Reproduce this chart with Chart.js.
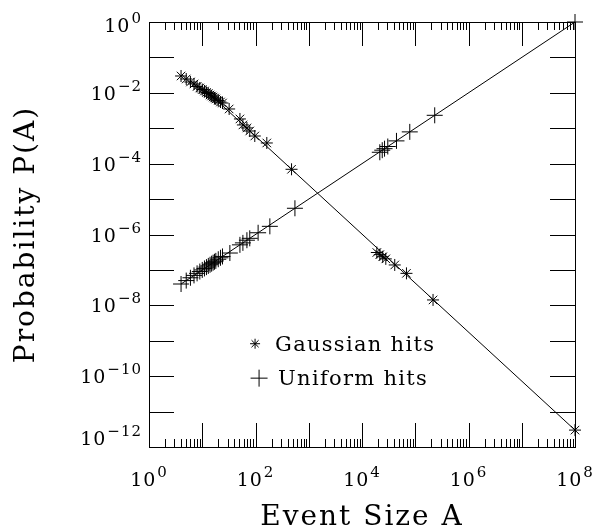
<!DOCTYPE html>
<html><head><meta charset="utf-8">
<script src="https://cdn.jsdelivr.net/npm/chart.js@4/dist/chart.umd.min.js"></script>
<style>html,body{margin:0;padding:0;background:#fff;}</style>
</head><body>
<canvas id="c" width="597" height="529"></canvas>
<script>
// ---- data ----
const gaussianSizes = [4, 5, 6, 7, 8, 9, 10, 11, 12, 13, 14, 15, 16, 17, 18, 20, 22, 24, 32, 51, 58, 69, 78, 97, 163, 475, 19000, 21600, 24500, 28000, 41200, 68400, 215800, 1e8];
const gaussianHits = [0.0299, 0.0246, 0.0202, 0.0178, 0.0151, 0.0137, 0.0124, 0.01127, 0.01023, 0.00958, 0.00869, 0.00814, 0.00763, 0.00715, 0.00670, 0.00608, 0.00551, 0.00516, 0.00350, 0.00183, 0.00124, 0.00102, 0.000837, 0.000604, 0.000384, 6.94e-5, 3.1e-7, 2.7e-7, 2.35e-7, 2.05e-7, 1.38e-7, 8.0e-8, 1.42e-8, 3.0e-12];
const uniformSizes = [4, 5, 6, 7, 8, 9, 10, 11, 12, 13, 14, 15, 16, 17, 18, 20, 22, 24, 33, 51, 58, 69, 78, 112, 186, 550, 21600, 24000, 26500, 30500, 44400, 78900, 232000, 1e8];
const uniformHits = [4e-8, 5e-8, 6e-8, 7e-8, 8e-8, 9e-8, 1.0e-7, 1.1e-7, 1.2e-7, 1.3e-7, 1.4e-7, 1.5e-7, 1.6e-7, 1.7e-7, 1.8e-7, 2.0e-7, 2.2e-7, 2.4e-7, 3.0e-7, 5.1e-7, 5.8e-7, 6.9e-7, 7.8e-7, 1.12e-6, 1.7e-6, 5.5e-6, 2.1e-4, 2.4e-4, 2.65e-4, 3.05e-4, 4.4e-4, 7.9e-4, 2.32e-3, 1];
const gaussianFitSizes = [16, 1e8];
const gaussianFitValues = [7.58e-3, 3.0e-12];
const uniformFitSizes = [4, 1e8];
const uniformFitValues = [4e-8, 1];
const xDecadeExps = [0, 1, 2, 3, 4, 5, 6, 7, 8];
const yDecadeExps = [-12, -11, -10, -9, -8, -7, -6, -5, -4, -3, -2, -1, 0];
const xLabelExps = [0, 2, 4, 6, 8];
const yLabelExps = [0, -2, -4, -6, -8, -10, -12];
const legendLabels = ['Gaussian hits', 'Uniform hits'];
const xTitle = 'Event Size A';
const yTitle = 'Probability P(A)';

const FONT = "'DejaVu Serif', serif";
Chart.defaults.font.family = FONT;
Chart.defaults.color = '#000';

const pts = (xs, ys) => xs.map((x, i) => ({x: x, y: ys[i]}));

function expText(e) { return e < 0 ? '\u2212' + (-e) : String(e); }

function drawPower(ctx, ax, baseline, e, align) {
  ctx.font = '19px ' + FONT;
  const w1 = ctx.measureText('10').width;
  ctx.font = '15px ' + FONT;
  const es = expText(e);
  const w2 = ctx.measureText(es).width;
  const total = w1 + 1 + w2;
  const sx = align === 'right' ? ax - total : ax - total / 2;
  ctx.textAlign = 'left';
  ctx.textBaseline = 'alphabetic';
  ctx.font = '19px ' + FONT;
  ctx.fillText('10', sx, baseline);
  ctx.font = '15px ' + FONT;
  ctx.fillText(es, sx + w1 + 1, baseline - 9);
}

function mark(ctx, style, r, x, y) {
  if (Chart.helpers && Chart.helpers.drawPoint) {
    Chart.helpers.drawPoint(ctx, {pointStyle: style, radius: r, rotation: 0, borderWidth: 1}, x, y);
  }
}

const spacingPlugin = {
  id: 'spacing',
  beforeDraw(chart) { chart.ctx.letterSpacing = '2px'; }
};

const decor = {
  id: 'decor',
  afterDraw(chart) {
    const ctx = chart.ctx;
    const {left, right, top, bottom} = chart.chartArea;
    const xs = chart.scales.x, ys = chart.scales.y;
    const R = v => Math.round(v) + 0.5;
    ctx.save();
    ctx.letterSpacing = '0px';
    ctx.strokeStyle = '#000';
    ctx.fillStyle = '#000';
    ctx.lineWidth = 1;
    ctx.strokeRect(R(left), R(top), Math.round(right) - Math.round(left), Math.round(bottom) - Math.round(top));
    ctx.beginPath();
    xDecadeExps.forEach(e => {
      const mults = e === 8 ? [1] : [1, 2, 3, 4, 5, 6, 7, 8, 9];
      mults.forEach(m => {
        const px = R(xs.getPixelForValue(m * Math.pow(10, e)));
        const len = m === 1 ? 24 : 8;
        ctx.moveTo(px, bottom); ctx.lineTo(px, bottom - len);
        ctx.moveTo(px, top); ctx.lineTo(px, top + len);
      });
    });
    yDecadeExps.forEach(e => {
      const py = R(ys.getPixelForValue(Math.pow(10, e)));
      ctx.moveTo(left, py); ctx.lineTo(left + 25, py);
      ctx.moveTo(right, py); ctx.lineTo(right - 25, py);
    });
    ctx.stroke();
    ctx.letterSpacing = '1px';
    xLabelExps.forEach(e => {
      const px = xs.getPixelForValue(Math.pow(10, e));
      drawPower(ctx, px, bottom + 39, e, 'center');
    });
    yLabelExps.forEach(e => {
      const py = ys.getPixelForValue(Math.pow(10, e));
      let base = py + 7;
      base = Math.max(base, top + 10);
      base = Math.min(base, bottom - 2);
      drawPower(ctx, left - 7, base, e, 'right');
    });
    const lx = left + 0.249 * (right - left);
    const ly1 = top + 0.757 * (bottom - top);
    const ly2 = top + 0.838 * (bottom - top);
    mark(ctx, 'star', 5, lx, ly1);
    mark(ctx, 'cross', 8.5, lx + 4, ly2);
    ctx.letterSpacing = '1.3px';
    ctx.font = '21px ' + FONT;
    ctx.textAlign = 'left';
    ctx.textBaseline = 'alphabetic';
    ctx.fillText(legendLabels[0], lx + 20, ly1 + 7);
    ctx.fillText(legendLabels[1], lx + 23, ly2 + 7);
    ctx.restore();
  }
};

new Chart(document.getElementById('c').getContext('2d'), {
  type: 'scatter',
  data: {
    datasets: [
      {label: legendLabels[0], data: pts(gaussianSizes, gaussianHits), pointStyle: 'star', pointRadius: 6,
       pointBorderWidth: 1, borderColor: '#000', backgroundColor: '#000', showLine: false, clip: false},
      {label: legendLabels[1], data: pts(uniformSizes, uniformHits), pointStyle: 'cross', pointRadius: 8,
       pointBorderWidth: 1, borderColor: '#000', backgroundColor: '#000', showLine: false, clip: false},
      {label: 'Gaussian fit', data: pts(gaussianFitSizes, gaussianFitValues), showLine: true, pointRadius: 0,
       borderColor: '#000', borderWidth: 1, clip: false},
      {label: 'Uniform fit', data: pts(uniformFitSizes, uniformFitValues), showLine: true, pointRadius: 0,
       borderColor: '#000', borderWidth: 1, clip: false}
    ]
  },
  options: {
    responsive: false,
    animation: false,
    devicePixelRatio: 1,
    layout: {padding: {top: 22, right: 22, left: 0, bottom: 0}},
    plugins: {legend: {display: false}, tooltip: {enabled: false}},
    scales: {
      x: {
        type: 'logarithmic', position: 'bottom', min: 1, max: 1e8,
        afterBuildTicks: s => { s.ticks = xDecadeExps.map(e => ({value: Math.pow(10, e)})); },
        afterFit: s => { s.height = 82; },
        grid: {display: false}, border: {display: false}, ticks: {display: false},
        title: {display: true, text: xTitle, color: '#000', font: {size: 28, lineHeight: '22px'}, padding: 0}
      },
      y: {
        type: 'logarithmic', position: 'left', min: 1e-12, max: 1,
        afterBuildTicks: s => { s.ticks = yDecadeExps.map(e => ({value: Math.pow(10, e)})); },
        afterFit: s => { s.width = 149; },
        grid: {display: false}, border: {display: false}, ticks: {display: false},
        title: {display: true, text: yTitle, color: '#000', font: {size: 28, lineHeight: '22px'}, padding: {top: 16, bottom: 0}}
      }
    }
  },
  plugins: [spacingPlugin, decor]
});
</script>
</body></html>
